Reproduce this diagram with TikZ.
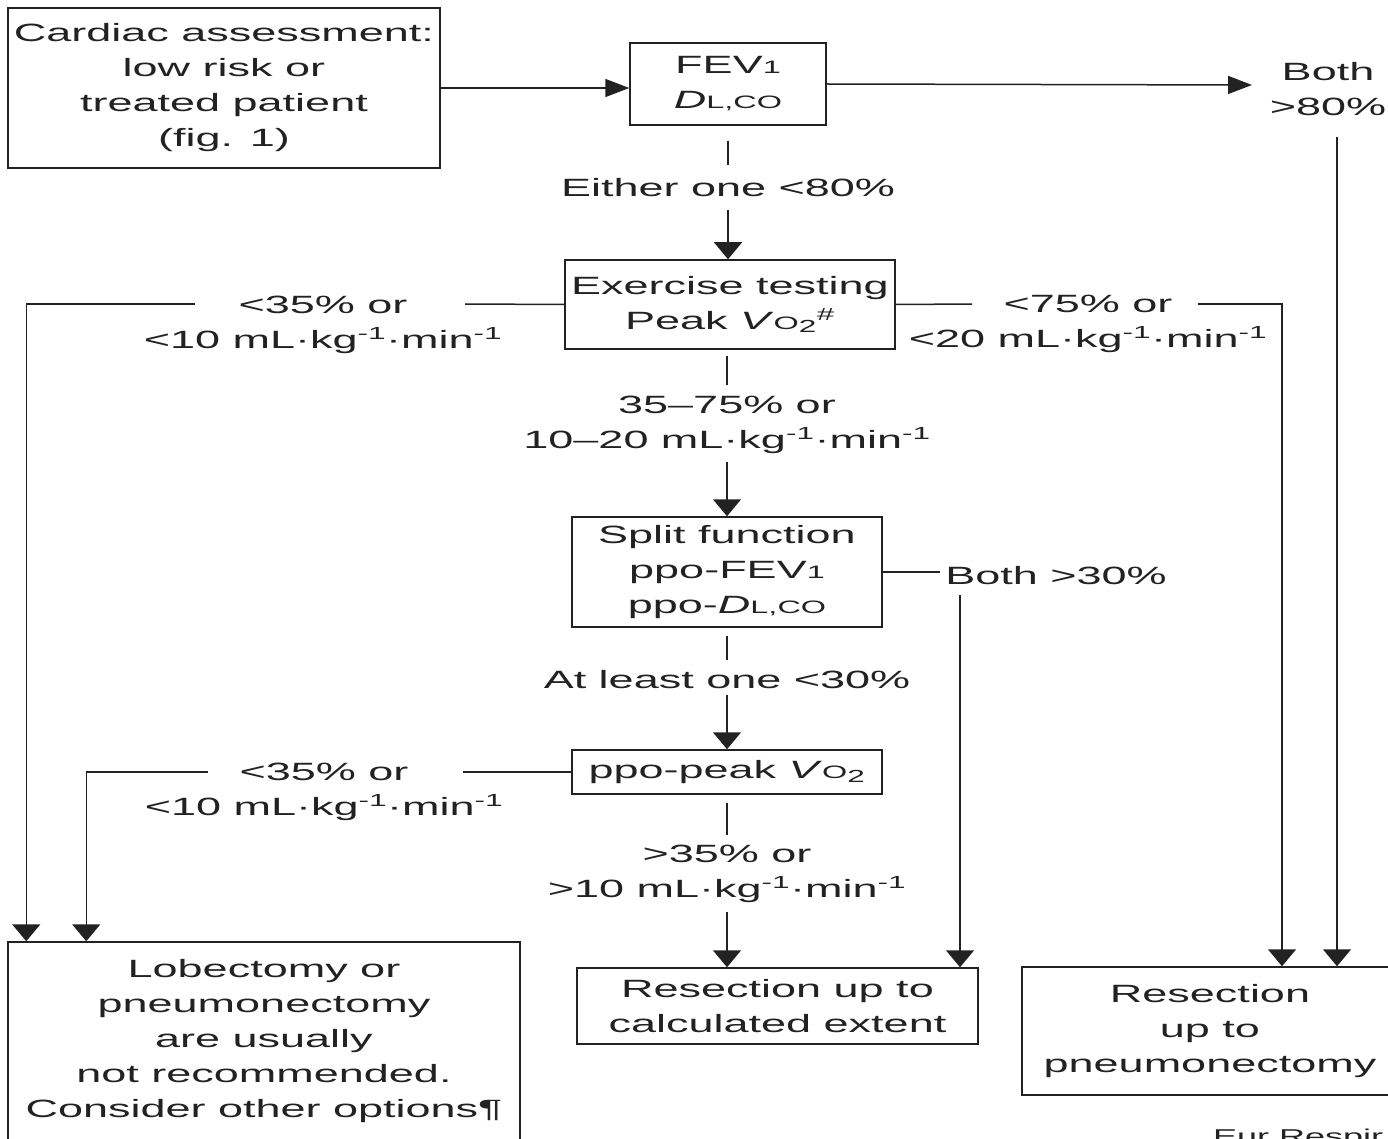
\documentclass[tikz,border=0pt]{standalone}
\usepackage{fontspec}
\setmainfont{Liberation Sans}[FakeStretch=1.8]
\usetikzlibrary{arrows.meta,calc}
\definecolor{ink}{HTML}{222222}
\newcommand{\smc}[1]{{\fontsize{18}{18}\selectfont #1}}
\newcommand{\FEVi}{FEV{\fontsize{18}{18}\selectfont 1}}
\newcommand{\DLCO}{\textit{D}\smc{L,CO}}
\newcommand{\VOii}{\textit{V}\smc{O}\textsubscript{2}}
\newcommand{\unitt}{mL·kg\textsuperscript{-1}·min\textsuperscript{-1}}
\begin{document}
\begin{tikzpicture}[x=1pt,y=-1pt,color=ink,
  font=\fontsize{25}{35}\selectfont,
  box/.style={draw=ink,line width=1.5pt,align=center,inner sep=0pt},
  lab/.style={align=center,inner sep=0pt},
  ln/.style={draw=ink,line width=1.5pt},
  varr/.style={ln,-{Triangle[length=17pt,width=28pt]}},
  harr/.style={ln,-{Triangle[length=24pt,width=18pt]}}]
\useasboundingbox (0,0) rectangle (1388,1139);
\clip (0,0) rectangle (1388,1139);
% boxes
\node[box,minimum width=432pt,minimum height=160pt] (card) at (224,88)
  {Cardiac assessment:\\low risk or\\treated patient\\(fig. 1)};
\node[box,minimum width=196pt,minimum height=82pt] (fev) at (728,84) {\FEVi\\\DLCO};
\node[box,minimum width=330pt,minimum height=89pt] (ex) at (730,304.5)
  {Exercise testing\\Peak \VOii\textsuperscript{\#}};
\node[box,minimum width=310pt,minimum height=110pt] (split) at (727,572)
  {Split function\\ppo-\FEVi\\ppo-\DLCO};
\node[box,minimum width=310pt,minimum height=44pt] (pp) at (727,772) {ppo-peak \VOii};
\node[box,minimum width=401pt,minimum height=76pt] (rc) at (777.5,1006)
  {Resection up to\\calculated extent};
\node[box,minimum width=376pt,minimum height=128pt] (pn) at (1210,1031)
  {Resection\\up to\\pneumonectomy};
\node[box,minimum width=512pt,minimum height=198pt] (lob) at (264,1041)
  {Lobectomy or\\pneumonectomy\\are usually\\not recommended.\\Consider other options¶};
% labels
\node[lab] (both) at (1328,89) {Both\\>80\%};
\node[lab] (either) at (728,188) {Either one <80\%};
\node[lab] (exl) at (323,325) {<35\% or\\<10 \unitt};
\node[lab] (exr) at (1088,324) {<75\% or\\<20 \unitt};
\node[lab] (exd) at (727,425) {35–75\% or\\10–20 \unitt};
\node[lab] (b30) at (1056,576) {Both >30\%};
\node[lab] (atl) at (727,680) {At least one <30\%};
\node[lab] (ppl) at (324,792) {<35\% or\\<10 \unitt};
\node[lab] (ppd) at (727,874) {>35\% or\\>10 \unitt};
\node[anchor=north west,inner sep=0pt,font=\fontsize{20}{24}\selectfont] (src) at (1213,1129) {Eur Respir J};
% connectors
\draw[harr] (card.east) -- (card.east -| fev.west);
\draw[harr] (fev.east) -- ($(both.center)+(-76,-4)$);
\draw[varr] ($(both.center)+(9,48)$) -- ($(pn.north)+(127,0)$);
\draw[ln] ($(fev.south)+(0,15)$) -- ($(either.center)+(0,-23)$);
\draw[varr] ($(either.center)+(0,22)$) -- (ex.north -| either.center);
\draw[ln] (ex.west) -- ($(exl.center)+(142,-21)$);
\draw[varr] ($(exl.center)+(-128,-21)$) -| ($(lob.north west)+(19,0)$);
\draw[ln] (ex.east) -- ($(exr.center)+(-116,-20)$);
\draw[varr] ($(exr.center)+(110,-20)$) -| ($(pn.north)+(72,0)$);
\draw[ln] ($(ex.south -| exd.center)+(0,6)$) -- ($(exd.center)+(0,-40)$);
\draw[varr] ($(exd.center)+(0,37)$) -- (split.north);
\draw[ln] (split.east) -- ($(b30.center)+(-116,-4)$);
\draw[varr] ($(b30.center)+(-96,19)$) -- ($(rc.north)+(182.5,0)$);
\draw[ln] ($(split.south)+(0,8)$) -- ($(atl.center)+(0,-20)$);
\draw[varr] ($(atl.center)+(0,15)$) -- (pp.north);
\draw[ln] (pp.west) -- ($(ppl.center)+(139,-20)$);
\draw[varr] ($(ppl.center)+(-116,-20)$) -| ($(lob.north west)+(79,0)$);
\draw[ln] ($(pp.south)+(0,8)$) -- ($(ppd.center)+(0,-39)$);
\draw[varr] ($(ppd.center)+(0,38)$) -- (rc.north -| ppd.center);
\end{tikzpicture}
\end{document}
